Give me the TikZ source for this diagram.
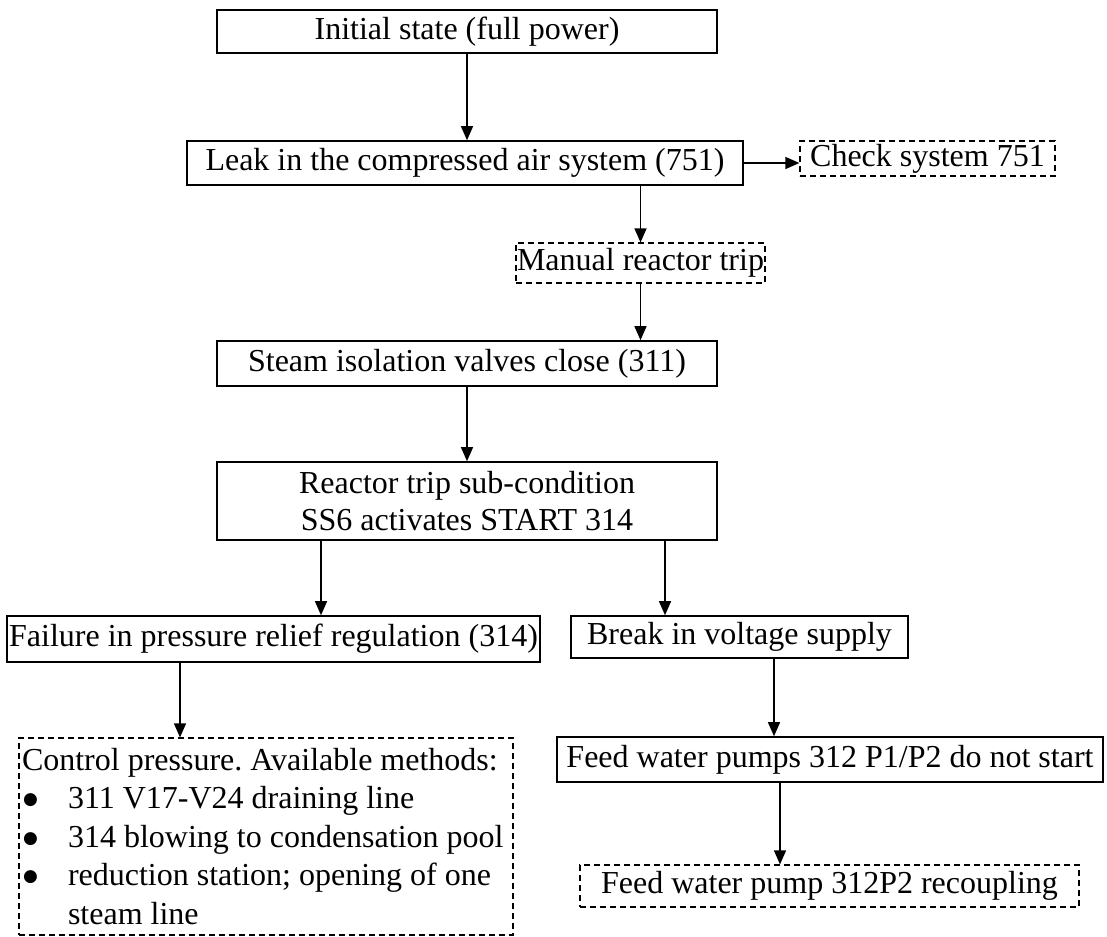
\documentclass[tikz,border=0pt]{standalone}
\usepackage{fontspec}
\setmainfont{Liberation Serif}
\newfontfamily\symfont{DejaVu Sans}
\usetikzlibrary{arrows.meta}
\newcommand{\itembullet}{\makebox[46pt][l]{\hspace{1pt}\raisebox{4pt}{\symfont\fontsize{17}{17}\selectfont ●}}}
\begin{document}
\begin{tikzpicture}[x=1pt,y=-1pt,
  box/.style={draw,line width=1.6pt,inner sep=0pt,align=center,
    font=\fontsize{32}{37}\selectfont},
  dashbox/.style={box,line width=1.2pt,dash pattern=on 6pt off 4pt},
  arr/.style={line width=1.3pt,-{Triangle[length=14pt,width=12pt]}}]

% page area
\fill[white] (0,0) rectangle (1107,936);
\useasboundingbox (0,0) rectangle (1107,936);

% main chain
\node[box,minimum width=500pt,minimum height=43pt] (init) at (467,31.5)
  {Initial state (full power)};
\node[box,minimum width=556pt,minimum height=44pt] (leak) at (465,163)
  {Leak in the compressed air system (751)};
\node[dashbox,minimum width=255pt,minimum height=35pt] (check) at (927.5,158.5)
  {Check system 751};
\node[dashbox,minimum width=249pt,minimum height=40pt] (manual) at (640.5,263)
  {Manual reactor trip};
\node[box,minimum width=500pt,minimum height=45pt] (steam) at (467,363.5)
  {Steam isolation valves close (311)};
\node[box,minimum width=500pt,minimum height=78pt] (reactor) at (467,501)
  {Reactor trip sub-condition\\SS6 activates START 314};

% left branch
\node[box,minimum width=533pt,minimum height=46pt] (failure) at (273.5,639)
  {Failure in pressure relief regulation (314)};
\node[dashbox,minimum width=494pt,minimum height=197pt,text width=488pt,
  align=flush left,font=\fontsize{32}{38.5}\selectfont\frenchspacing] (ctrl) at (266,836.5)
  {\mbox{Control pressure. Available methods:}\\
   \mbox{\itembullet 311 V17-V24 draining line}\\
   \mbox{\itembullet 314 blowing to condensation pool}\\
   \mbox{\itembullet reduction station; opening of one}\\
   \mbox{\hspace*{46pt}steam line}};

% right branch
\node[box,minimum width=337pt,minimum height=42pt] (brk) at (739.5,637)
  {Break in voltage supply};
\node[box,minimum width=546pt,minimum height=45pt] (feed) at (830,759.5)
  {Feed water pumps 312 P1/P2 do not start};
\node[dashbox,minimum width=499pt,minimum height=42pt] (recoup) at (829.5,886)
  {Feed water pump 312P2 recoupling};

% connectors
\draw[arr] (init.south) -- (init.south |- leak.north);
\draw[arr] (leak.east) -- (leak.east -| check.west);
\draw[arr] (leak.south -| manual.north) -- (manual.north);
\draw[arr] (manual.south) -- (manual.south |- steam.north);
\draw[arr] (steam.south) -- (steam.south |- reactor.north);
\draw[arr] ([xshift=-146pt]reactor.south) -- ([xshift=-146pt]reactor.south |- failure.north);
\draw[arr] ([xshift=198pt]reactor.south) -- ([xshift=198pt]reactor.south |- brk.north);
\draw[arr] ([xshift=-93.5pt]failure.south) -- ([xshift=-93.5pt]failure.south |- ctrl.north);
\draw[arr] ([xshift=34.5pt]brk.south) -- ([xshift=34.5pt]brk.south |- feed.north);
\draw[arr] ([xshift=-50pt]feed.south) -- ([xshift=-50pt]feed.south |- recoup.north);
\end{tikzpicture}
\end{document}
